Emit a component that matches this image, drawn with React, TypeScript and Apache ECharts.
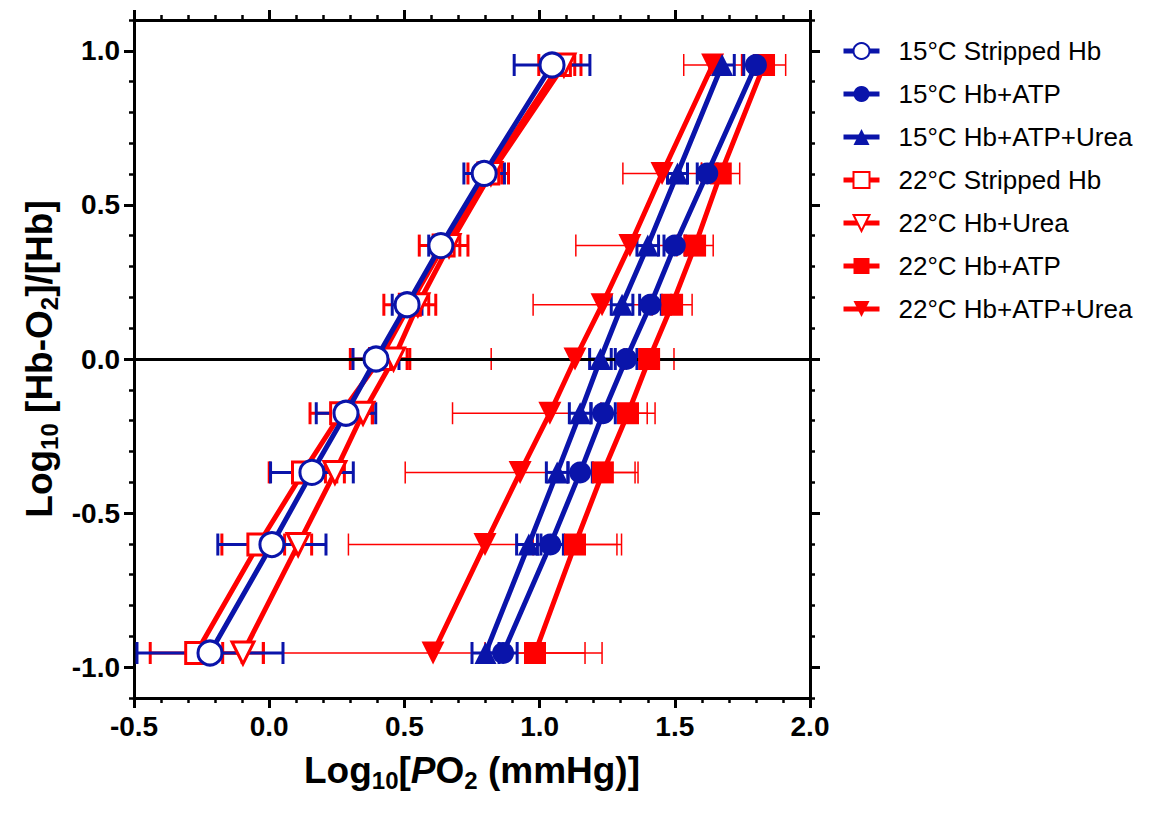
import React, { useEffect, useRef } from 'react';
import * as echarts from 'echarts';

const FONT = '"Liberation Sans", Arial, Helvetica, sans-serif';
const BLUE = '#0a14aa';
const RED = '#ff0000';

// y levels: log10(Y/(1-Y)) at 90%, 80% ... 10% saturation
const yLevels = [0.954, 0.602, 0.368, 0.176, 0, -0.176, -0.368, -0.602, -0.954];

const seriesNames = [
  '15°C Stripped Hb',
  '15°C Hb+ATP',
  '15°C Hb+ATP+Urea',
  '22°C Stripped Hb',
  '22°C Hb+Urea',
  '22°C Hb+ATP',
  '22°C Hb+ATP+Urea',
];

// x = log10 PO2 for each y level
const x15Stripped = [1.046, 0.795, 0.635, 0.51, 0.395, 0.284, 0.158, 0.01, -0.219];
const x15ATP = [1.8, 1.62, 1.5, 1.41, 1.32, 1.235, 1.15, 1.04, 0.865];
const x15ATPUrea = [1.675, 1.51, 1.4, 1.305, 1.225, 1.15, 1.065, 0.96, 0.8];
const x22Stripped = [1.075, 0.81, 0.645, 0.52, 0.41, 0.266, 0.125, -0.04, -0.27];
const x22Urea = [1.09, 0.82, 0.665, 0.55, 0.46, 0.347, 0.243, 0.107, -0.097];
const x22ATP = [1.83, 1.67, 1.575, 1.49, 1.405, 1.327, 1.234, 1.131, 0.983];
const x22ATPUrea = [1.64, 1.453, 1.334, 1.231, 1.131, 1.038, 0.928, 0.798, 0.606];

// horizontal error (± in log units)
const e15Stripped = [0.14, 0.075, 0.045, 0.055, 0.085, 0.11, 0.153, 0.2, 0.27];
const e15ATP = [0.045, 0.037, 0.04, 0.04, 0.04, 0.045, 0.045, 0.048, 0.052];
const e15ATPUrea = [0.045, 0.037, 0.04, 0.04, 0.04, 0.04, 0.04, 0.045, 0.05];
const e22Stripped = [0.078, 0.075, 0.09, 0.096, 0.11, 0.115, 0.125, 0.135, 0.17];
const e22Urea = [0.04, 0.04, 0.04, 0.04, 0.05, 0.035, 0.035, 0.05, 0.075];
const e22ATP = [0.08, 0.07, 0.067, 0.074, 0.092, 0.1, 0.13, 0.155, 0.185];
const e22ATPUrea = [0.107, 0.145, 0.2, 0.255, 0.31, 0.36, 0.425, 0.505, 0.625];

const xTickValues = [-0.5, 0, 0.5, 1, 1.5, 2];
const yMajorTicks = [-1, -0.5, 0, 0.5, 1];

type Def = {
  name: string;
  xs: number[];
  errs: number[];
  color: string;
  symbol: string;
  open: boolean;
  rotate: number;
  size: number;
  errWidth: number;
  z: number;
};

const defs: Def[] = [
  { name: seriesNames[0], xs: x15Stripped, errs: e15Stripped, color: BLUE, symbol: 'circle', open: true, rotate: 0, size: 24, errWidth: 3, z: 6 },
  { name: seriesNames[1], xs: x15ATP, errs: e15ATP, color: BLUE, symbol: 'circle', open: false, rotate: 0, size: 22, errWidth: 3, z: 6 },
  { name: seriesNames[2], xs: x15ATPUrea, errs: e15ATPUrea, color: BLUE, symbol: 'triangle', open: false, rotate: 0, size: 22, errWidth: 3, z: 6 },
  { name: seriesNames[3], xs: x22Stripped, errs: e22Stripped, color: RED, symbol: 'rect', open: true, rotate: 0, size: 21, errWidth: 3, z: 5 },
  { name: seriesNames[4], xs: x22Urea, errs: e22Urea, color: RED, symbol: 'triangle', open: true, rotate: 180, size: 22, errWidth: 3, z: 5 },
  { name: seriesNames[5], xs: x22ATP, errs: e22ATP, color: RED, symbol: 'rect', open: false, rotate: 0, size: 22, errWidth: 1.5, z: 5 },
  { name: seriesNames[6], xs: x22ATPUrea, errs: e22ATPUrea, color: RED, symbol: 'triangle', open: false, rotate: 180, size: 23, errWidth: 1.5, z: 5 },
];

function errorSeries(d: Def) {
  const cap = 11;
  return {
    type: 'custom',
    name: d.name + ' error',
    silent: true,
    z: d.color === BLUE ? 3 : 2,
    xAxisIndex: 0,
    yAxisIndex: 0,
    encode: { x: [0, 1], y: 2 },
    data: yLevels.map((y, i) => [d.xs[i] - d.errs[i], d.xs[i] + d.errs[i], y]),
    renderItem: (params: any, api: any) => {
      const lo = api.coord([api.value(0), api.value(2)]);
      const hi = api.coord([api.value(1), api.value(2)]);
      const st = { stroke: d.color, lineWidth: d.errWidth };
      return {
        type: 'group',
        children: [
          { type: 'line', shape: { x1: lo[0], y1: lo[1], x2: hi[0], y2: hi[1] }, style: st },
          { type: 'line', shape: { x1: lo[0], y1: lo[1] - cap, x2: lo[0], y2: lo[1] + cap }, style: st },
          { type: 'line', shape: { x1: hi[0], y1: hi[1] - cap, x2: hi[0], y2: hi[1] + cap }, style: st },
        ],
      };
    },
  };
}

function lineSeries(d: Def) {
  return {
    type: 'line',
    name: d.name,
    z: d.z,
    xAxisIndex: 0,
    yAxisIndex: 0,
    symbol: d.symbol,
    symbolSize: d.size,
    symbolRotate: d.rotate,
    showSymbol: true,
    silent: true,
    emphasis: { disabled: true },
    lineStyle: { color: d.color, width: 5 },
    itemStyle: d.open
      ? { color: '#ffffff', borderColor: d.color, borderWidth: 3 }
      : { color: d.color, borderColor: d.color, borderWidth: 0 },
    data: yLevels.map((y, i) => [d.xs[i], y]),
  };
}

const tickLabel = {
  fontSize: 28,
  fontWeight: 'bold',
  color: '#000',
  fontFamily: FONT,
};

const axisLineStyle = { color: '#000', width: 3 };

export default function App() {
  const ref = useRef<HTMLDivElement>(null);
  useEffect(() => {
    if (!ref.current) return;
    const chart = echarts.init(ref.current, undefined, { renderer: 'svg' });
    const xAxisBase = {
      type: 'value',
      min: -0.5,
      max: 2,
      interval: 0.5,
      gridIndex: 0,
      splitLine: { show: false },
      axisLine: { show: true, onZero: false, lineStyle: axisLineStyle },
      axisTick: { show: true, length: 10, lineStyle: { color: '#000', width: 3 } },
      minorTick: { show: true, splitNumber: 5, length: 5, lineStyle: { color: '#000', width: 2.5 } },
    };
    const yMinorBase = {
      type: 'value',
      min: -1.1,
      max: 1.1,
      interval: 0.1,
      gridIndex: 0,
      splitLine: { show: false },
      axisLine: { show: true, onZero: false, lineStyle: axisLineStyle },
      axisTick: { show: true, length: 5, lineStyle: { color: '#000', width: 2.5 } },
      axisLabel: { show: false },
    };
    const yMajorBase = {
      type: 'value',
      min: -1.1,
      max: 1.1,
      interval: 0.1,
      gridIndex: 0,
      splitLine: { show: false },
      axisLine: { show: false, onZero: false },
      axisTick: { show: true, length: 10, customValues: yMajorTicks, lineStyle: { color: '#000', width: 3 } },
    };
    const option: any = {
      animation: false,
      backgroundColor: '#ffffff',
      grid: { left: 134, right: 339, top: 20, bottom: 122, containLabel: false, outerBoundsMode: 'none' },
      xAxis: [
        {
          ...xAxisBase,
          position: 'bottom',
          axisLabel: {
            ...tickLabel,
            margin: 14,
            customValues: xTickValues,
            formatter: (v: number) => v.toFixed(1),
          },
        },
        { ...xAxisBase, position: 'top', axisLabel: { show: false } },
      ],
      yAxis: [
        { ...yMinorBase, position: 'left' },
        {
          ...yMajorBase,
          position: 'left',
          axisLabel: {
            ...tickLabel,
            margin: 14,
            customValues: yMajorTicks,
            formatter: (v: number) => v.toFixed(1),
          },
        },
        { ...yMinorBase, position: 'right' },
        { ...yMajorBase, position: 'right', axisLabel: { show: false } },
      ],
      legend: {
        orient: 'vertical',
        left: 836,
        top: 33,
        itemWidth: 36,
        itemHeight: 20,
        itemGap: 17,
        selectedMode: false,
        data: seriesNames,
        lineStyle: { width: 5 },
        textStyle: { fontSize: 26, fontFamily: FONT, color: '#000', lineHeight: 20, padding: [0, 0, 0, 14] },
      },
      graphic: [
        {
          type: 'text',
          x: 472,
          y: 770,
          silent: true,
          style: {
            text: '{b|Log}{s|10}{b|[}{i|P}{b|O}{s|2}{b| (mmHg)]}',
            fill: '#000',
            align: 'center',
            verticalAlign: 'middle',
            rich: {
              b: { fontSize: 37, fontWeight: 'bold', fontFamily: FONT, lineHeight: 44 },
              i: { fontSize: 37, fontWeight: 'bold', fontStyle: 'italic', fontFamily: FONT, lineHeight: 44 },
              s: { fontSize: 24, fontWeight: 'bold', fontFamily: FONT, lineHeight: 22, verticalAlign: 'bottom' },
            },
          },
        },
        {
          type: 'text',
          x: 39,
          y: 359,
          rotation: Math.PI / 2,
          silent: true,
          style: {
            text: '{b|Log}{s|10}{b| [Hb-O}{s|2}{b|]/[Hb]}',
            fill: '#000',
            align: 'center',
            verticalAlign: 'middle',
            rich: {
              b: { fontSize: 37, fontWeight: 'bold', fontFamily: FONT, lineHeight: 44 },
              s: { fontSize: 24, fontWeight: 'bold', fontFamily: FONT, lineHeight: 22, verticalAlign: 'bottom' },
            },
          },
        },
      ],
      series: [
        {
          type: 'line',
          name: 'zero',
          data: [],
          z: 1,
          silent: true,
          markLine: {
            silent: true,
            symbol: ['none', 'none'],
            label: { show: false },
            lineStyle: { color: '#000', width: 3, type: 'solid' },
            data: [{ yAxis: 0 }],
          },
        },
        ...defs.map(errorSeries),
        ...defs.map(lineSeries),
      ],
    };
    chart.setOption(option);
    return () => chart.dispose();
  }, []);
  return (
    <div
      ref={ref}
      style={{ position: 'fixed', left: 0, top: 0, width: 1149, height: 820, background: '#fff' }}
    />
  );
}
